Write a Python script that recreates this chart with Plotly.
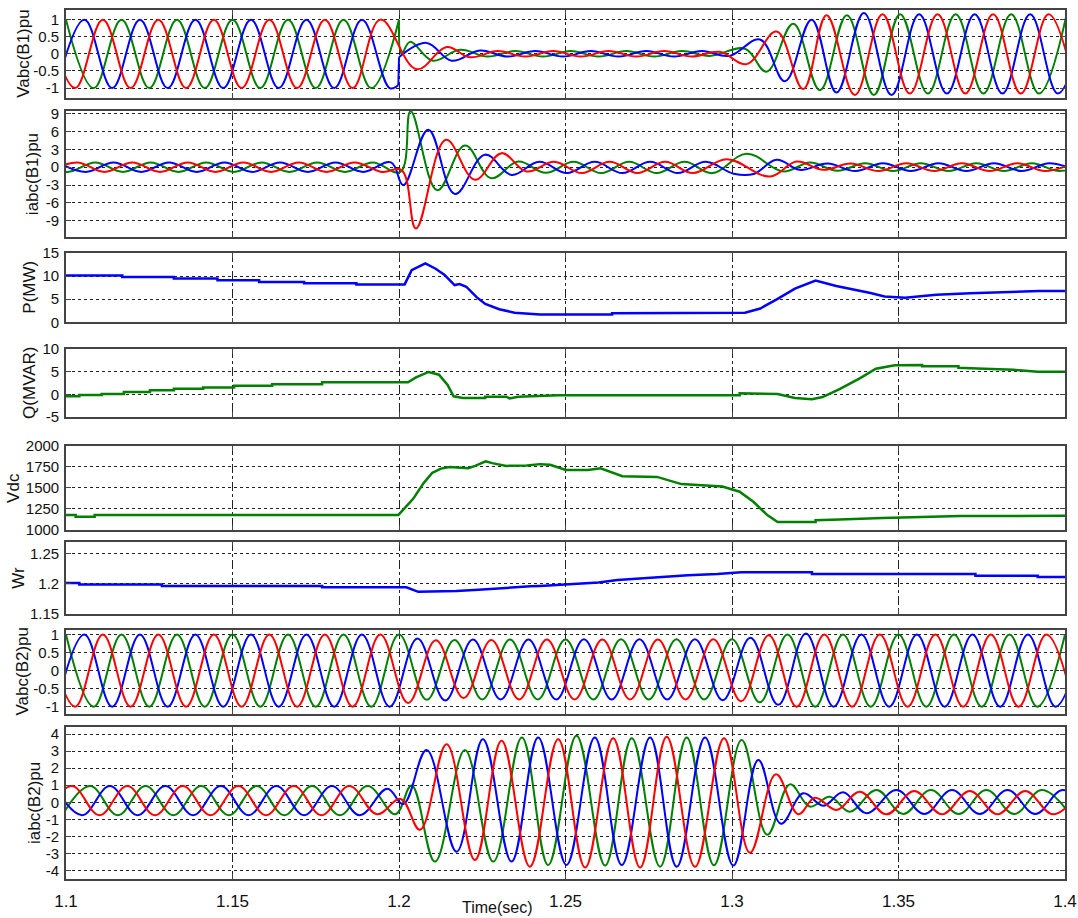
import plotly.graph_objects as go

# ---------------- axes / ticks ----------------
X_RANGE = [1.1, 1.4]
X_TICKS = [1.1, 1.15, 1.2, 1.25, 1.3, 1.35, 1.4]
X_TICK_TEXT = ['1.1', '1.15', '1.2', '1.25', '1.3', '1.35', '1.4']
HALF = 1 / 120  # half period of the 60 Hz waveforms (extremes spacing)

Y_TITLES = ['Vabc(B1)pu', 'iabc(B1)pu', 'P(MW)', 'Q(MVAR)', 'Vdc', 'Wr', 'Vabc(B2)pu', 'iabc(B2)pu']
Y_RANGES = [[-1.29, 1.29], [-11.8, 9.45], [0, 15], [-5, 10], [1000, 2000], [1.15, 1.27], [-1.19, 1.14], [-4.49, 4.41]]
Y_TICKS = [[-1, -0.5, 0, 0.5, 1], [-9, -6, -3, 0, 3, 6, 9], [0, 5, 10, 15], [-5, 0, 5, 10],
           [1000, 1250, 1500, 1750, 2000], [1.15, 1.2, 1.25], [-1, -0.5, 0, 0.5, 1], [-4, -3, -2, -1, 0, 1, 2, 3, 4]]
Y_TICK_TEXT = [['-1', '-0.5', '0', '0.5', '1'], ['-9', '-6', '-3', '0', '3', '6', '9'], ['0', '5', '10', '15'],
               ['-5', '0', '5', '10'], ['1000', '1250', '1500', '1750', '2000'], ['1.15', '1.2', '1.25'],
               ['-1', '-0.5', '0', '0.5', '1'], ['-4', '-3', '-2', '-1', '0', '1', '2', '3', '4']]

# ---------------- Vabc(B1): extremes (peaks/troughs) ----------------
VB1_G_PRE = [1, -1, 1, -1, 1, -1, 1, -1, 1, -1, 1, -1, 1]            # from t=1.1000
VB1_G_FLT_T = [1.2, 1.2008, 1.2033, 1.2102, 1.2183]
VB1_G_FLT = [1.0, 0.0, 0.35, -0.2, 0.12]
VB1_G_LOW = [-0.08, 0.08, -0.08, 0.08, -0.08, 0.08, -0.08, 0.08, -0.06]  # from t=1.2266
VB1_G_REC_T = [1.3039, 1.3104, 1.3184, 1.3264, 1.3345, 1.3426]
VB1_G_REC = [0.15, -0.52, 0.88, -1.06, 1.13, -1.2]
VB1_G_POST = [1.16, -1.16, 1.16, -1.16, 1.16, -1.16, 1.16]          # from t=1.3505

VB1_B_PRE = [-1, 1, -1, 1, -1, 1, -1, 1, -1, 1, -1, 1, -1]           # from t=1.0972
VB1_B_JUMP_T = [1.1998, 1.2]
VB1_B_JUMP = [-0.92, -0.1]
VB1_B_FLT_T = [1.2, 1.2083, 1.2158, 1.2243]
VB1_B_FLT = [-0.1, 0.32, -0.2, 0.1]
VB1_B_LOW = [-0.08, 0.08, -0.08, 0.08, -0.08, 0.08, -0.08, 0.08, -0.06]  # from t=1.2326
VB1_B_REC_T = [1.3084, 1.3159, 1.3239, 1.3314, 1.3396, 1.3479]
VB1_B_REC = [0.42, -0.8, 1.0, -1.13, 1.19, -1.2]
VB1_B_POST = [1.16, -1.16, 1.16, -1.16, 1.16, -1.16, 1.16]          # from t=1.3562

VB1_R_PRE = [1, -1, 1, -1, 1, -1, 1, -1, 1, -1, 1, -1, 1]            # from t=1.0944
VB1_R_FLT_T = [1.2053, 1.2143]
VB1_R_FLT = [-0.45, 0.2]
VB1_R_LOW = [-0.1, 0.08, -0.08, 0.08, -0.08, 0.08, -0.08, 0.08, -0.08, 0.06]  # from t=1.2213
VB1_R_REC_T = [1.3044, 1.3134, 1.3214, 1.3284, 1.3369, 1.3452]
VB1_R_REC = [-0.3, 0.65, -1.03, 1.13, -1.2, 1.16]
VB1_R_POST = [-1.16, 1.16, -1.16, 1.16, -1.16, 1.16, -1.16]          # from t=1.3534

# ---------------- iabc(B1) ----------------
IB1_G_PRE = [0.8, -0.8, 0.8, -0.8, 0.8, -0.8, 0.8, -0.8, 0.8, -0.8, 0.8, -0.8, 0.8, -0.8]  # from 1.0921
IB1_G_FLT_T = [1.2035, 1.2115, 1.2198, 1.2277, 1.2358]
IB1_G_FLT = [9.4, -3.9, 3.65, -1.85, 0.95]
IB1_G_MID = [-0.95, 0.9, -1.0, 0.9, -1.0, 0.9, -1.0]                 # from 1.2441
IB1_G_REC_T = [1.3044, 1.3154, 1.3234]
IB1_G_REC = [2.25, -0.73, 0.79]
IB1_G_POST = [-0.6, 0.65, -0.65, 0.65, -0.65, 0.65, -0.65, 0.65, -0.65, 0.65]  # from 1.3317

IB1_R_PRE = [-0.8, 0.8, -0.8, 0.8, -0.8, 0.8, -0.8, 0.8, -0.8, 0.8, -0.8, 0.8, -0.8]  # from 1.0949
IB1_R_FLT_T = [1.2008, 1.2051, 1.2141, 1.2228, 1.2308, 1.2383]
IB1_R_FLT = [-0.5, -10.3, 4.6, -2.1, 2.36, -0.73]
IB1_R_MID = [0.9, -1.0, 0.9, -1.0, 0.9, -1.0]                        # from 1.2466
IB1_R_REC_T = [1.2984, 1.3114, 1.3194, 1.3274]
IB1_R_REC = [1.35, -1.57, 0.95, -0.45]
IB1_R_POST = [0.6, -0.65, 0.65, -0.65, 0.65, -0.65, 0.65, -0.65, 0.65]  # from 1.3357

IB1_B_PRE = [0.8, -0.8, 0.8, -0.8, 0.8, -0.8, 0.8, -0.8, 0.8, -0.8, 0.8, -0.8, 0.8]  # from 1.0976
IB1_B_FLT_T = [1.2013, 1.2088, 1.2168, 1.2258, 1.2338]
IB1_B_FLT = [-3.0, 6.3, -4.5, 2.1, -1.3]
IB1_B_MID = [0.9, -1.0, 0.9, -1.0, 0.9, -1.0, 0.9]                   # from 1.2421
IB1_B_REC_T = [1.3005, 1.3065, 1.3134, 1.3204]
IB1_B_REC = [-1.1, -1.15, 1.24, -0.45]
IB1_B_POST = [0.6, -0.65, 0.65, -0.65, 0.65, -0.65, 0.65, -0.65, 0.65, -0.65]  # from 1.3287

# ---------------- P, Q, Vdc, Wr ----------------
P_T = [1.1, 1.1169, 1.1169, 1.1324, 1.1324, 1.1455, 1.1455, 1.158, 1.158, 1.1715, 1.1715, 1.1872, 1.1872,
       1.2017, 1.2038, 1.2079, 1.211, 1.2136, 1.2167, 1.2182, 1.2202, 1.2233, 1.2259, 1.2301, 1.2347, 1.2423,
       1.264, 1.264, 1.3039, 1.3085, 1.3137, 1.3189, 1.3251, 1.3313, 1.3416, 1.3458, 1.352, 1.3613, 1.3716,
       1.3809, 1.3923, 1.4]
P_MW = [10.15, 10.15, 9.78, 9.78, 9.48, 9.48, 9.1, 9.1, 8.73, 8.73, 8.43, 8.43, 8.2,
        8.2, 11.3, 12.76, 11.6, 10.3, 8.06, 8.28, 7.7, 5.45, 3.96, 2.84, 2.09, 1.7,
        1.7, 1.94, 2.09, 2.99, 5.07, 7.3, 9.03, 7.84, 6.34, 5.6, 5.3, 5.97, 6.27,
        6.49, 6.79, 6.79]

Q_T = [1.1, 1.104, 1.104, 1.1107, 1.1107, 1.1174, 1.1174, 1.1252, 1.1252, 1.1324, 1.1324, 1.1412, 1.1412,
       1.1505, 1.1505, 1.1619, 1.1619, 1.1769, 1.1769, 1.2027, 1.2051, 1.2089, 1.212, 1.2146, 1.2164, 1.2192,
       1.2259, 1.2259, 1.2322, 1.2332, 1.2358, 1.248, 1.3023, 1.3023, 1.3137, 1.3189, 1.324, 1.3272, 1.3323,
       1.3385, 1.3432, 1.3489, 1.3571, 1.3571, 1.368, 1.368, 1.3758, 1.3846, 1.3918, 1.4]
Q_MVAR = [-0.45, -0.45, -0.15, -0.15, 0.08, 0.08, 0.53, 0.53, 0.9, 0.9, 1.2, 1.2, 1.5,
          1.5, 1.9, 1.9, 2.2, 2.2, 2.65, 2.65, 3.7, 4.9, 4.3, 2.05, -0.45, -0.83,
          -0.83, -0.53, -0.53, -0.9, -0.53, -0.2, -0.2, 0.23, 0.08, -0.83, -1.06, -0.6, 1.14,
          3.56, 5.6, 6.36, 6.44, 6.14, 6.14, 5.83, 5.6, 5.38, 4.92, 4.92]

VDC_T = [1.1, 1.1029, 1.1029, 1.1086, 1.1086, 1.1998, 1.2043, 1.2074, 1.21, 1.2126, 1.2152, 1.2177, 1.2208,
         1.2229, 1.226, 1.228, 1.2322, 1.2384, 1.2423, 1.2454, 1.2501, 1.2568, 1.2605, 1.2671, 1.2775, 1.2848,
         1.2909, 1.2971, 1.3023, 1.3065, 1.3106, 1.3137, 1.3251, 1.3251, 1.3323, 1.3452, 1.3685, 1.4]
VDC_V = [1176, 1176, 1156, 1156, 1176, 1176, 1373, 1557, 1680, 1730, 1750, 1742, 1734,
         1762, 1816, 1795, 1762, 1766, 1783, 1775, 1713, 1713, 1734, 1639, 1631, 1545,
         1529, 1516, 1455, 1332, 1176, 1094, 1094, 1115, 1123, 1143, 1164, 1168]

WR_T = [1.1, 1.104, 1.104, 1.1288, 1.1288, 1.1769, 1.1769, 1.2022, 1.2058, 1.2172, 1.2239, 1.2322, 1.2394,
        1.2423, 1.2517, 1.2599, 1.2656, 1.2729, 1.2801, 1.2868, 1.2956, 1.3028, 1.324, 1.324, 1.3731, 1.3731,
        1.3918, 1.3918, 1.4]
WR_V = [1.2017, 1.2017, 1.1989, 1.1989, 1.1966, 1.1966, 1.1943, 1.1943, 1.1869, 1.1881, 1.1903, 1.1938, 1.196,
        1.1966, 1.1994, 1.2023, 1.2063, 1.2091, 1.2119, 1.2142, 1.2165, 1.2193, 1.2193, 1.2165, 1.2165, 1.2136,
        1.2136, 1.2114, 1.2114]

# ---------------- Vabc(B2): extremes every half cycle ----------------
VB2_G = [1, -1, 1, -1, 1, -1, 1, -1, 1, -1, 1, -1, 1,
         -0.81, 0.85, -0.8, 0.86, -0.8, 0.86, -0.8, 0.87, -0.8, 0.87, -0.8, 0.87,
         -0.88, 1.0, -1.0, 1, -1, 1, -1, 1, -1, 1, -1, 1]                  # from 1.1000
VB2_B = [-1, 1, -1, 1, -1, 1, -1, 1, -1, 1, -1, 1, -1,
         0.89, -0.83, 0.86, -0.8, 0.86, -0.8, 0.87, -0.8, 0.87, -0.8, 0.87, -0.82,
         0.91, -0.95, 1.03, -1, 1, -1, 1, -1, 1, -1, 1, -1, 1]              # from 1.0972
VB2_R = [1, -1, 1, -1, 1, -1, 1, -1, 1, -1, 1, -1, 1,
         -0.9, 0.84, -0.76, 0.85, -0.8, 0.86, -0.8, 0.86, -0.8, 0.86, -0.8, 0.87,
         -0.85, 0.98, -1.0, 1, -1, 1, -1, 1, -1, 1, -1, 1, -1]              # from 1.0944

# ---------------- iabc(B2) ----------------
IB2_R_PRE = [-0.75, 0.95, -0.75, 0.95, -0.75, 0.95, -0.75, 0.95, -0.75, 0.95, -0.75, 0.95, -0.7]  # from 1.0934
IB2_R_FLT_T = [1.2005, 1.2063, 1.2143, 1.2228, 1.2308, 1.2393, 1.2478, 1.2559, 1.2643, 1.2724, 1.2804,
               1.2889, 1.2976, 1.3054, 1.3132, 1.3199, 1.3249, 1.3314, 1.3384]
IB2_R_FLT = [0.2, -1.6, 3.4, -3.38, 3.6, -3.77, 3.7, -3.82, 3.75, -3.82, 3.84,
             -3.77, 3.75, -2.95, 1.64, -0.7, 0.27, -0.45, 0.62]
IB2_R_POST = [-0.7, 0.66, -0.7, 0.66, -0.7, 0.66, -0.7, 0.66]           # from 1.3464

IB2_G_PRE = [-0.75, 0.95, -0.75, 0.95, -0.75, 0.95, -0.75, 0.95, -0.75, 0.95, -0.75, 0.95, -0.7]  # from 1.0989
IB2_G_FLT_T = [1.2038, 1.2108, 1.2198, 1.2283, 1.2369, 1.2448, 1.2533, 1.2619, 1.2699, 1.2784, 1.2864,
               1.2946, 1.3029, 1.3106, 1.3174, 1.3234, 1.3294, 1.3354, 1.3434]
IB2_G_FLT = [0.98, -3.47, 3.06, -3.47, 3.79, -3.67, 3.9, -3.7, 3.75, -3.77, 3.79,
             -3.68, 3.65, -1.9, 1.05, -0.25, 0.33, -0.55, 0.72]
IB2_G_POST = [-0.68, 0.72, -0.68, 0.72, -0.68, 0.72, -0.68]             # from 1.3514

IB2_B_PRE = [0.95, -0.75, 0.95, -0.75, 0.95, -0.75, 0.95, -0.75, 0.95, -0.75, 0.95, -0.75, 0.8]  # from 1.0965
IB2_B_FLT_T = [1.2013, 1.2083, 1.2173, 1.2252, 1.2338, 1.2418, 1.2503, 1.2588, 1.2669, 1.2754, 1.2834,
               1.2919, 1.3004, 1.3079, 1.3147, 1.3214, 1.3274, 1.3334, 1.3404]
IB2_B_FLT = [-0.1, 3.06, -2.89, 3.7, -3.47, 3.79, -3.67, 3.79, -3.67, 3.79, -3.77,
             3.79, -3.7, 2.48, -1.25, 0.53, -0.2, 0.59, -0.64]
IB2_B_POST = [0.72, -0.68, 0.72, -0.68, 0.72, -0.68, 0.72, -0.68]       # from 1.3494

# ---------------- styling ----------------
BLUE, RED, GREEN = '#0000ff', '#ff0000', '#008000'
FONT = 'Arial, Liberation Sans, sans-serif'
W, H = 1078, 918
M_L, M_R, M_T, M_B = 66, 13, 9, 39
PANEL_PX = [(9.7, 98), (111, 237.3), (253, 322.3), (348.7, 417.1), (445.9, 529.9),
            (541.5, 614.2), (629.5, 713.5), (727, 879)]
TITLE_X_PX = [24, 32, 30, 30, 14, 19, 22, 34]


def grid(t0, vals):
    return [t0 + i * HALF for i in range(len(vals))], list(vals)


def join(*pieces):
    ts, vs = [], []
    for t, v in pieces:
        ts += list(t)
        vs += list(v)
    return ts, vs


fig = go.Figure()


def add(row, tv, color, spline=True, width=2):
    t, v = tv
    suffix = '' if row == 1 else str(row)
    line = dict(color=color, width=width, shape='spline' if spline else 'linear')
    if spline:
        line['smoothing'] = 1.1
    fig.add_trace(go.Scatter(x=t, y=v, mode='lines', line=line, xaxis='x' + suffix, yaxis='y' + suffix,
                             showlegend=False, hoverinfo='skip'))


# Row 1: Vabc(B1)
add(1, grid(1.1, VB1_G_PRE), GREEN)
add(1, join((VB1_G_FLT_T, VB1_G_FLT), grid(1.2266, VB1_G_LOW), (VB1_G_REC_T, VB1_G_REC),
            grid(1.3505, VB1_G_POST)), GREEN)
add(1, join(grid(1.0972, VB1_B_PRE), ([VB1_B_JUMP_T[0]], [VB1_B_JUMP[0]])), BLUE)
add(1, (VB1_B_JUMP_T, VB1_B_JUMP), BLUE, spline=False)
add(1, join((VB1_B_FLT_T, VB1_B_FLT), grid(1.2326, VB1_B_LOW), (VB1_B_REC_T, VB1_B_REC),
            grid(1.3562, VB1_B_POST)), BLUE)
add(1, join(grid(1.0944, VB1_R_PRE), (VB1_R_FLT_T, VB1_R_FLT), grid(1.2213, VB1_R_LOW),
            (VB1_R_REC_T, VB1_R_REC), grid(1.3534, VB1_R_POST)), RED)

# Row 2: iabc(B1)
add(2, join(grid(1.0921, IB1_G_PRE), (IB1_G_FLT_T, IB1_G_FLT), grid(1.2441, IB1_G_MID),
            (IB1_G_REC_T, IB1_G_REC), grid(1.3317, IB1_G_POST)), GREEN)
add(2, join(grid(1.0976, IB1_B_PRE), (IB1_B_FLT_T, IB1_B_FLT), grid(1.2421, IB1_B_MID),
            (IB1_B_REC_T, IB1_B_REC), grid(1.3287, IB1_B_POST)), BLUE)
add(2, join(grid(1.0949, IB1_R_PRE), (IB1_R_FLT_T, IB1_R_FLT), grid(1.2466, IB1_R_MID),
            (IB1_R_REC_T, IB1_R_REC), grid(1.3357, IB1_R_POST)), RED)

# Rows 3-6
add(3, (P_T, P_MW), BLUE, spline=False, width=2.5)
add(4, (Q_T, Q_MVAR), GREEN, spline=False, width=2.5)
add(5, (VDC_T, VDC_V), GREEN, spline=False, width=2.5)
add(6, (WR_T, WR_V), BLUE, spline=False, width=2.5)

# Row 7: Vabc(B2)
add(7, grid(1.1, VB2_G), GREEN)
add(7, grid(1.0972, VB2_B), BLUE)
add(7, grid(1.0944, VB2_R), RED)

# Row 8: iabc(B2)
add(8, join(grid(1.0989, IB2_G_PRE), (IB2_G_FLT_T, IB2_G_FLT), grid(1.3514, IB2_G_POST)), GREEN)
add(8, join(grid(1.0965, IB2_B_PRE), (IB2_B_FLT_T, IB2_B_FLT), grid(1.3494, IB2_B_POST)), BLUE)
add(8, join(grid(1.0934, IB2_R_PRE), (IB2_R_FLT_T, IB2_R_FLT), grid(1.3464, IB2_R_POST)), RED)

PH = H - M_T - M_B
layout = dict(width=W, height=H, margin=dict(l=M_L, r=M_R, t=M_T, b=M_B, autoexpand=False),
              paper_bgcolor='white', plot_bgcolor='white', showlegend=False,
              font=dict(family=FONT, color='#111', size=14))
annotations = []
for i in range(8):
    top, bot = PANEL_PX[i]
    y0 = max(0.0, (H - M_B - bot) / PH)
    y1 = min(1.0, (H - M_B - top) / PH)
    sfx = '' if i == 0 else str(i + 1)
    layout['xaxis' + sfx] = dict(
        domain=[0, 1], range=X_RANGE, anchor='y' + sfx, tickvals=X_TICKS, ticktext=X_TICK_TEXT,
        showticklabels=(i == 7), tickfont=dict(size=17), ticklabelstandoff=6, automargin=False,
        showgrid=True, griddash='dashdot', gridcolor='#222', gridwidth=1,
        showline=True, mirror='ticks', linecolor='#444', linewidth=1.6,
        ticks='inside', ticklen=5, tickcolor='#444', zeroline=False,
        **({} if i == 0 else {'matches': 'x'}))
    layout['yaxis' + sfx] = dict(
        domain=[y0, y1], range=Y_RANGES[i], anchor='x' + sfx, tickvals=Y_TICKS[i], ticktext=Y_TICK_TEXT[i],
        tickfont=dict(size=15), showgrid=True, griddash='3px,3px', gridcolor='#222', gridwidth=1,
        showline=True, mirror='ticks', linecolor='#444', linewidth=1.6, automargin=False,
        ticks='inside', ticklen=5, tickcolor='#444', zeroline=False, ticklabelstandoff=2)
    annotations.append(dict(text=Y_TITLES[i], textangle=-90, xref='paper', yref='paper',
                            x=(TITLE_X_PX[i] - M_L) / (W - M_L - M_R), y=(y0 + y1) / 2,
                            xanchor='center', yanchor='middle', showarrow=False,
                            font=dict(size=17, family=FONT, color='#111')))
annotations.append(dict(text='Time(sec)', xref='paper', yref='paper',
                        x=(497 - M_L) / (W - M_L - M_R), y=(H - M_B - 897) / PH,
                        xanchor='center', yanchor='top', showarrow=False,
                        font=dict(size=16, family=FONT, color='#111')))
layout['annotations'] = annotations
fig.update_layout(**layout)
fig.write_html('out.html', config={'displayModeBar': False},
               post_script="document.body.style.margin='0';document.body.style.overflow='hidden';")
